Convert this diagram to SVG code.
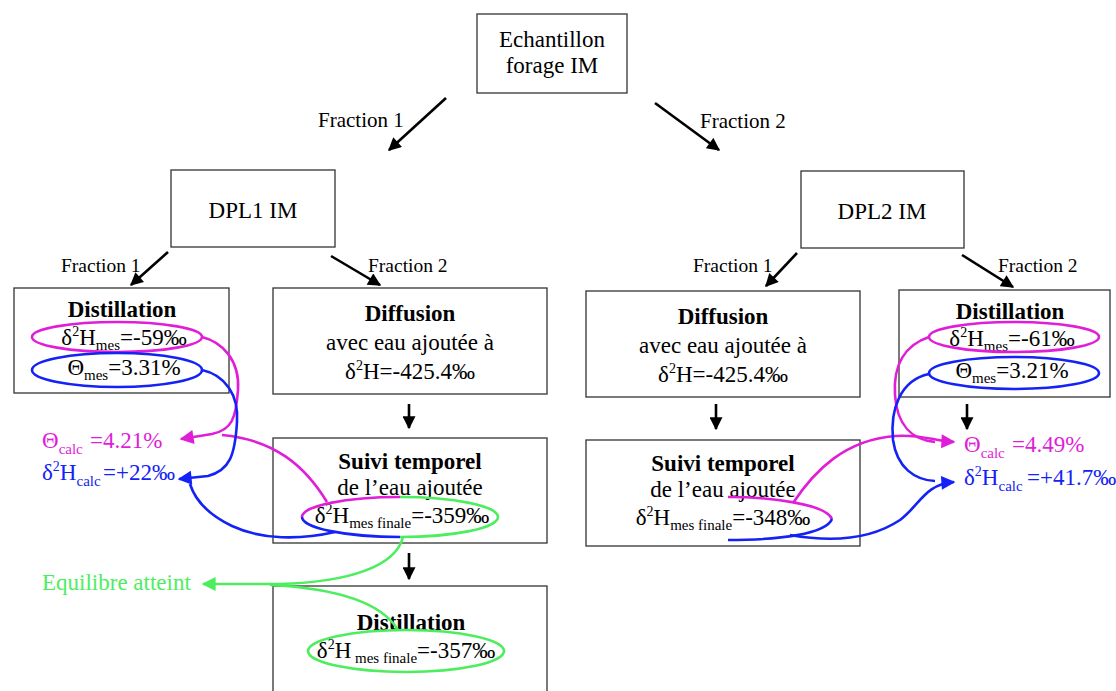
<svg xmlns="http://www.w3.org/2000/svg" width="1116" height="691" viewBox="0 0 1116 691">
<style>
text{font-family:"Liberation Serif","Times New Roman",serif;fill:#000}
.t{font-size:23px}
.f{font-size:19.5px}
.f2{font-size:21px}
.b{font-weight:bold}
.c{text-anchor:middle}
.sub{font-size:15px}
.sup{font-size:14px}
.box{fill:#fff;stroke:#333;stroke-width:1.3}
.ak{stroke:#000;stroke-width:2.6;fill:none}
.mag{fill:#E01ED8}
.blu{fill:#1422F5}
.grn{fill:#4CEE5E}
.sm{stroke:#E01ED8;stroke-width:2.6;fill:none}
.sb{stroke:#1422F5;stroke-width:2.6;fill:none}
.sg{stroke:#4CEE5E;stroke-width:2.6;fill:none}
</style>
<defs>
<marker id="hk" viewBox="0 0 10 10" refX="9" refY="5" markerWidth="14" markerHeight="13" markerUnits="userSpaceOnUse" orient="auto"><path d="M0,0 L10,5 L0,10 z" fill="#000"/></marker>
<marker id="hm" viewBox="0 0 10 10" refX="9" refY="5" markerWidth="16" markerHeight="14" markerUnits="userSpaceOnUse" orient="auto"><path d="M0,0 L10,5 L0,10 z" fill="#E01ED8"/></marker>
<marker id="hb" viewBox="0 0 10 10" refX="9" refY="5" markerWidth="16" markerHeight="14" markerUnits="userSpaceOnUse" orient="auto"><path d="M0,0 L10,5 L0,10 z" fill="#1422F5"/></marker>
<marker id="hg" viewBox="0 0 10 10" refX="9" refY="5" markerWidth="16" markerHeight="14" markerUnits="userSpaceOnUse" orient="auto"><path d="M0,0 L10,5 L0,10 z" fill="#4CEE5E"/></marker>
</defs>
<rect width="1116" height="691" fill="#fff"/>

<g id="n-echantillon">
<rect class="box" x="477" y="14" width="150" height="79"/>
<text class="t c" x="552" y="47">Echantillon</text>
<text class="t c" x="552" y="73">forage IM</text>
</g>

<g id="n-dpl1">
<rect class="box" x="171" y="170" width="164" height="77"/>
<text class="t c" x="253" y="218">DPL1 IM</text>
</g>

<g id="n-dpl2">
<rect class="box" x="801" y="171" width="163" height="77"/>
<text class="t c" x="882" y="219">DPL2 IM</text>
</g>

<g id="n-dist1">
<rect class="box" x="14" y="288" width="215" height="105"/>
<text class="t b c" x="122" y="317">Distillation</text>
<text class="t c" x="124" y="345">δ<tspan class="sup" dy="-9">2</tspan><tspan dy="9">H</tspan><tspan class="sub" dy="5">mes</tspan><tspan dy="-5">=-59‰</tspan></text>
<text class="t c" x="124" y="375">Θ<tspan class="sub" dy="5">mes</tspan><tspan dy="-5">=3.31%</tspan></text>
<ellipse cx="117" cy="337" rx="85" ry="15" class="sm"/>
<ellipse cx="117" cy="370" rx="85" ry="17" class="sb"/>
</g>

<g id="n-diff1">
<rect class="box" x="273" y="288" width="274" height="106"/>
<text class="t b c" x="410" y="321">Diffusion</text>
<text class="t c" x="410" y="350">avec eau ajoutée à</text>
<text class="t c" x="410" y="379">δ<tspan class="sup" dy="-9">2</tspan><tspan dy="9">H=-425.4‰</tspan></text>
</g>

<g id="n-suivi1">
<rect class="box" x="273" y="438" width="274" height="105"/>
<text class="t b c" x="410" y="469">Suivi temporel</text>
<text class="t c" x="410" y="495">de l’eau ajoutée</text>
<text class="t c" x="402" y="523">δ<tspan class="sup" dy="-9">2</tspan><tspan dy="9">H</tspan><tspan class="sub" dy="5">mes finale</tspan><tspan dy="-5">=-359‰</tspan></text>
<path class="sm" d="M302,517 A98,20 0 0 1 400,497"/>
<path class="sg" d="M400,497 A98,20 0 0 1 400,537"/>
<path class="sb" d="M400,537 A98,20 0 0 1 302,517"/>
</g>

<g id="n-dist3">
<rect class="box" x="273" y="586" width="274" height="110"/>
<text class="t b c" x="411" y="630">Distillation</text>
<text class="t c" x="406" y="658">δ<tspan class="sup" dy="-9">2</tspan><tspan dy="9">H</tspan><tspan class="sub" dy="5"> mes finale</tspan><tspan dy="-5">=-357‰</tspan></text>
<ellipse cx="406" cy="651" rx="98" ry="21" class="sg"/>
</g>

<g id="n-diff2">
<rect class="box" x="586" y="291" width="274" height="106"/>
<text class="t b c" x="723" y="324">Diffusion</text>
<text class="t c" x="723" y="353">avec eau ajoutée à</text>
<text class="t c" x="723" y="382">δ<tspan class="sup" dy="-9">2</tspan><tspan dy="9">H=-425.4‰</tspan></text>
</g>

<g id="n-suivi2">
<rect class="box" x="586" y="440" width="274" height="106"/>
<text class="t b c" x="723" y="471">Suivi temporel</text>
<text class="t c" x="723" y="497">de l’eau ajoutée</text>
<text class="t c" x="723" y="525">δ<tspan class="sup" dy="-9">2</tspan><tspan dy="9">H</tspan><tspan class="sub" dy="5">mes finale</tspan><tspan dy="-5">=-348‰</tspan></text>
<path class="sm" d="M728,497 C770,497 826,504 832,519"/>
<path class="sb" d="M832,519 C826,534 780,540 728,540"/>
</g>

<g id="n-dist2">
<rect class="box" x="899" y="290" width="211" height="107"/>
<text class="t b c" x="1010" y="319">Distillation</text>
<text class="t c" x="1012" y="346">δ<tspan class="sup" dy="-9">2</tspan><tspan dy="9">H</tspan><tspan class="sub" dy="5">mes</tspan><tspan dy="-5">=-61‰</tspan></text>
<text class="t c" x="1012" y="378">Θ<tspan class="sub" dy="5">mes</tspan><tspan dy="-5">=3.21%</tspan></text>
<ellipse cx="1014" cy="337" rx="85" ry="15" class="sm"/>
<ellipse cx="1014" cy="373" rx="85" ry="16" class="sb"/>
</g>

<g id="n-calc1">
<text class="t mag" x="42" y="448">Θ<tspan class="sub" dy="6">calc</tspan><tspan x="90" dy="-6">=4.21%</tspan></text>
<text class="t blu" x="42" y="480">δ<tspan class="sup" dy="-9">2</tspan><tspan dy="9">H</tspan><tspan class="sub" dy="6">calc</tspan><tspan x="103" dy="-6">=+22‰</tspan></text>
</g>

<g id="n-calc2">
<text class="t mag" x="964" y="452">Θ<tspan class="sub" dy="6">calc</tspan><tspan x="1012" dy="-6">=4.49%</tspan></text>
<text class="t blu" x="964" y="485">δ<tspan class="sup" dy="-9">2</tspan><tspan dy="9">H</tspan><tspan class="sub" dy="6">calc</tspan><tspan x="1027" dy="-6">=+41.7‰</tspan></text>
</g>

<g id="n-equilibre">
<text class="t grn" x="42" y="590">Equilibre atteint</text>
</g>

<g id="connectors">
<line class="ak" x1="446" y1="98" x2="389" y2="150" marker-end="url(#hk)"/>
<text class="f2" x="318" y="127">Fraction 1</text>
<line class="ak" x1="655" y1="103" x2="719" y2="150" marker-end="url(#hk)"/>
<text class="f2" x="700" y="128">Fraction 2</text>

<line class="ak" x1="168" y1="252" x2="131" y2="285" marker-end="url(#hk)"/>
<text class="f" x="61" y="272">Fraction 1</text>
<line class="ak" x1="331" y1="256" x2="380" y2="285" marker-end="url(#hk)"/>
<text class="f" x="368" y="272">Fraction 2</text>
<line class="ak" x1="797" y1="253" x2="766" y2="286" marker-end="url(#hk)"/>
<text class="f" x="693" y="272">Fraction 1</text>
<line class="ak" x1="962" y1="255" x2="1013" y2="287" marker-end="url(#hk)"/>
<text class="f" x="998" y="272">Fraction 2</text>

<line class="ak" x1="409" y1="404" x2="409" y2="428" marker-end="url(#hk)"/>
<line class="ak" x1="409" y1="553" x2="409" y2="579" marker-end="url(#hk)"/>
<line class="ak" x1="716" y1="404" x2="716" y2="429" marker-end="url(#hk)"/>
<line class="ak" x1="967" y1="404" x2="967" y2="429" marker-end="url(#hk)"/>

<path class="sm" d="M202,337 C222,342 240,360 238,390 C236,418 232,430 212,434 L181,439" marker-end="url(#hm)"/>
<path class="sm" d="M327,502 C305,466 275,440 222,435"/>
<path class="sb" d="M202,370 C225,375 239,395 237,422 C235,455 230,470 208,476 L179,479" marker-end="url(#hb)"/>
<path class="sb" d="M335,532 C300,540 262,540 232,526 C207,514 195,500 190,484"/>

<path class="sm" d="M793,503 C815,470 845,440 895,436 C920,434 935,441 954,442" marker-end="url(#hm)"/>
<path class="sb" d="M790,535 C830,542 870,540 900,520 C920,505 925,484 954,482" marker-end="url(#hb)"/>
<path class="sm" d="M929,337 C905,345 893,365 895,395 C897,425 912,440 935,442"/>
<path class="sb" d="M929,374 C900,380 890,410 893,440 C897,468 915,480 935,481"/>

<path class="sg" d="M403,537 C396,566 350,582 280,584 L203,584" marker-end="url(#hg)"/>
<path class="sg" d="M270,585 C330,588 380,600 398,630"/>
</g>
</svg>
